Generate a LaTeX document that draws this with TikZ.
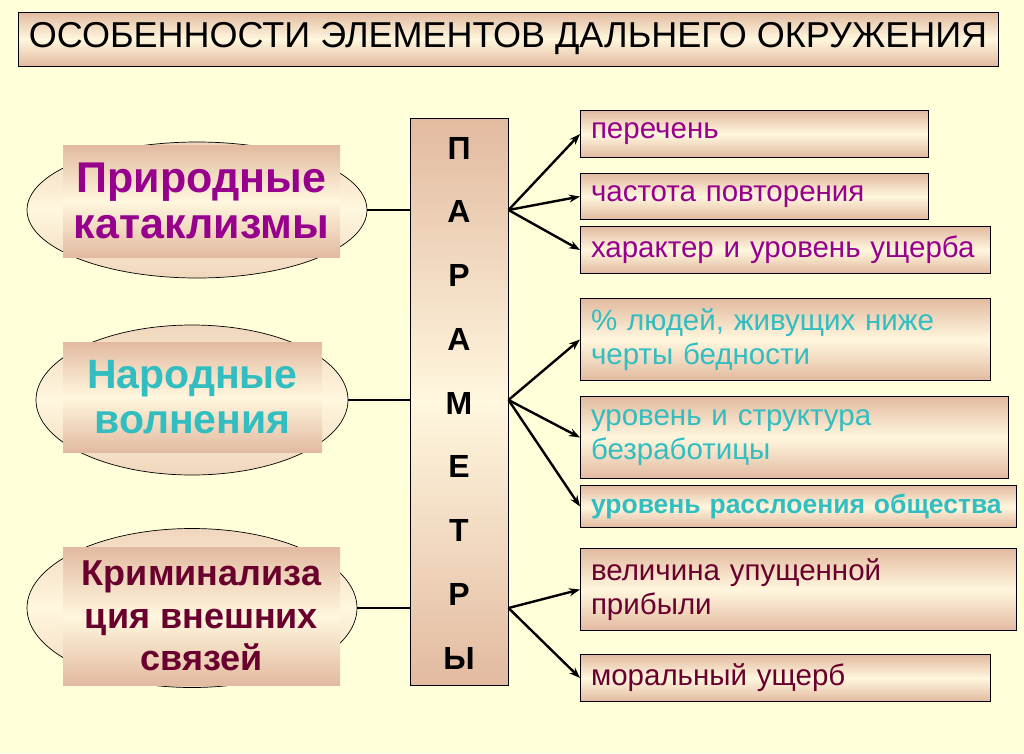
\documentclass[tikz,border=0pt]{standalone}
\usepackage{fontspec}
\setmainfont{Liberation Sans}
\usetikzlibrary{shapes.geometric,arrows.meta}
\definecolor{bgyel}{RGB}{255,255,217}
\definecolor{peach}{RGB}{226,186,160}
\definecolor{cream}{RGB}{255,247,222}
\definecolor{lpeach}{RGB}{240,214,188}
\definecolor{purp}{RGB}{150,0,140}
\definecolor{teal}{RGB}{50,190,192}
\definecolor{maroon}{RGB}{105,0,45}
\newcommand{\rtsize}{\fontsize{29.5}{34}\selectfont}
\tikzset{
  shadebox/.style={top color=peach, bottom color=peach, middle color=cream},
  rbox/.style={shadebox, draw, line width=1pt, anchor=north west, minimum width=#1,
    text width=#1-21pt, align=left, inner xsep=10pt, inner ysep=0pt, font=\rtsize},
  lbox/.style={shadebox, align=center, inner sep=0pt},
  elli/.style={ellipse, draw, line width=0.7pt, top color=lpeach, bottom color=lpeach, middle color=cream},
  letter/.style={font=\fontsize{32}{38}\selectfont\bfseries},
  link/.style={line width=2.4pt},
  arr/.style={line width=2.4pt, -{Stealth[length=11pt,width=8pt]}}
}

\begin{document}
\begin{tikzpicture}[x=1pt,y=-1pt]
  \fill[bgyel] (0,0) rectangle (1024,753);
  \useasboundingbox (0,0) rectangle (1024,753);

  % title
  \node (title) at (508,39) [shadebox, draw, line width=1pt, minimum width=980, minimum height=54,
    inner sep=0pt, font=\fontsize{36}{40}\selectfont] {ОСОБЕННОСТИ ЭЛЕМЕНТОВ ДАЛЬНЕГО ОКРУЖЕНИЯ};

  % parameters column
  \node (par) at (459,401.5) [shadebox, draw, line width=1pt, minimum width=98, minimum height=567] {};
  \foreach \l [count=\i] in {П,А,Р,А,М,Е,Т,Р,Ы}
    \node (let\i) at (459,{148+63.75*(\i-1)}) [letter] {\l};

  % left side
  \node (e1) at (197,210) [elli, minimum width=340, minimum height=136] {};
  \node (e2) at (192,400) [elli, minimum width=312, minimum height=150] {};
  \node (e3) at (192,608) [elli, minimum width=330, minimum height=159] {};
  \node (l1) at (201.5,201) [lbox, minimum width=277, minimum height=112, text=purp,
    font=\fontsize{43}{46}\selectfont\bfseries] {Природные\\катаклизмы};
  \node (l2) at (192.5,397) [lbox, minimum width=259, minimum height=110, text=teal,
    font=\fontsize{41}{45}\selectfont\bfseries] {Народные\\волнения};
  \node (l3) at (201.5,616) [lbox, minimum width=277, minimum height=138, text=maroon,
    font=\fontsize{36}{42.5}\selectfont\bfseries] {Криминализа\\ция внешних\\связей};
  \draw[link]
  (e1) to (e1 -| par.west)
  (e2) to (e2 -| par.west)
  (e3) to (e3 -| par.west);

  % right side
  \node (r1) at (580,110) [rbox=348, minimum height=47, text=purp] {перечень};
  \node (r2) at (580,173) [rbox=348, minimum height=46, text=purp] {частота повторения};
  \node (r3) at (580,226) [rbox=410, minimum height=47, text=purp] {характер и уровень ущерба};
  \node (r4) at (580,298) [rbox=410, minimum height=82, text=teal] {\% людей, живущих ниже\\черты бедности};
  \node (r5) at (580,396) [rbox=428, minimum height=82, text=teal] {уровень и структура\\безработицы};
  \node (r6) at (580,485) [rbox=436, minimum height=42, text=teal,
    font=\fontsize{26.5}{30}\selectfont\bfseries] {уровень расслоения общества};
  \node (r7) at (580,548) [rbox=436, minimum height=82, text=maroon] {величина упущенной\\прибыли};
  \node (r8) at (580,654) [rbox=410, minimum height=47, text=maroon] {моральный ущерб};

  \coordinate (p1) at (par.east |- e1);
  \coordinate (p2) at (par.east |- e2);
  \coordinate (p3) at (par.east |- e3);
  \draw[arr] (p1) to (r1.west);
  \draw[arr] (p1) to (r2.west);
  \draw[arr] (p1) to (r3.west);
  \draw[arr] (p2) to (r4.west);
  \draw[arr] (p2) to (r5.west);
  \draw[arr] (p2) to (r6.west);
  \draw[arr] (p3) to (r7.west);
  \draw[arr] (p3) to (r8.west);
\end{tikzpicture}
\end{document}
